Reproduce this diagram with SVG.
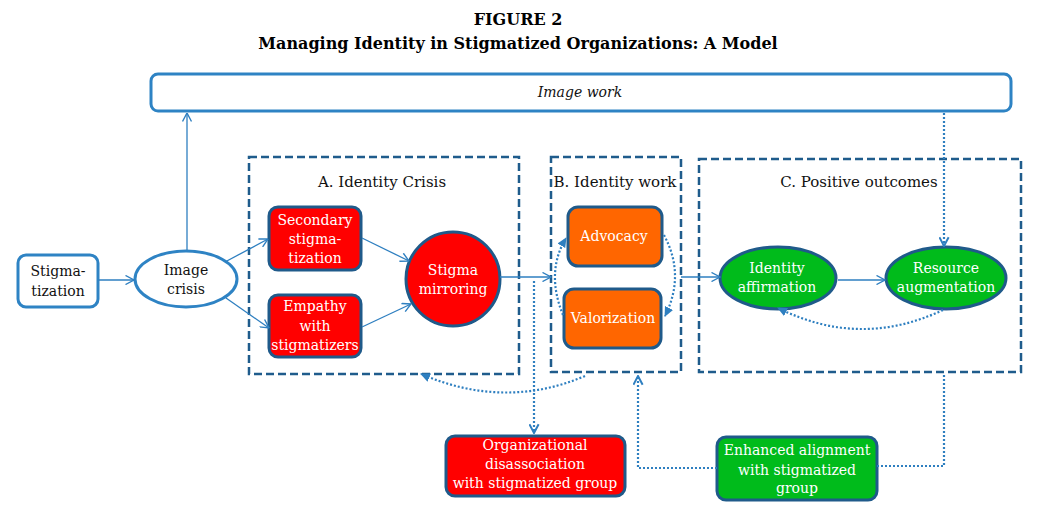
<svg xmlns="http://www.w3.org/2000/svg" width="1061" height="505" viewBox="0 0 1061 505">
<defs>
<style>
text{font-family:"DejaVu Serif","Liberation Serif",serif;text-anchor:middle}
.title{font-weight:bold;font-size:16px;fill:#000}
.hdr{font-size:15px;fill:#111}
.lbl{font-size:14px;fill:#111}
.wl{font-size:14px;fill:#fff}
.ital{font-size:14px;font-style:italic;fill:#111}
.light{fill:#fff;stroke:#2e83c4;stroke-width:3}
.grp{fill:none;stroke:#1f5c8c;stroke-width:2.5;stroke-dasharray:8,4}
.red{fill:#ff0000;stroke:#1f5a8a;stroke-width:3}
.org{fill:#ff6600;stroke:#1f5a8a;stroke-width:3}
.grn{fill:#00bb1b;stroke:#1f5a8a;stroke-width:3}
.ln{fill:none;stroke:#2e7fc0;stroke-width:1.3}
.dot{fill:none;stroke:#2e7fc0;stroke-width:2.2;stroke-dasharray:2,2}
</style>
<marker id="open" viewBox="0 0 10 10" refX="9.5" refY="5" markerWidth="10" markerHeight="10" markerUnits="userSpaceOnUse" orient="auto">
<path d="M1,0.5 L9.5,5 L1,9.5" fill="none" stroke="#2e7fc0" stroke-width="1.4"/>
</marker>
<marker id="openD" viewBox="0 0 10 10" refX="9" refY="5" markerWidth="11" markerHeight="11" markerUnits="userSpaceOnUse" orient="auto">
<path d="M1,0.8 L9,5 L1,9.2" fill="none" stroke="#2e7fc0" stroke-width="1.8"/>
</marker>
<marker id="fill" viewBox="0 0 10 10" refX="9" refY="5" markerWidth="10" markerHeight="10" markerUnits="userSpaceOnUse" orient="auto">
<path d="M0,0.5 L10,5 L0,9.5 Z" fill="#2e7fc0"/>
</marker>
</defs>
<rect width="1061" height="505" fill="#fff"/>
<g id="title">
<text class="title" x="518" y="25">FIGURE 2</text>
<text class="title" x="518" y="49">Managing Identity in Stigmatized Organizations: A Model</text>
</g>
<g id="image-work">
<rect class="light" x="151" y="74" width="860" height="37" rx="7"/>
<text class="ital" x="580" y="97">Image work</text>
</g>
<g id="group-a">
<rect class="grp" x="249" y="157" width="270" height="217"/>
<text class="hdr" x="382" y="187">A. Identity Crisis</text>
</g>
<g id="group-b">
<rect class="grp" x="551" y="157" width="130" height="215"/>
<text class="hdr" x="615" y="187">B. Identity work</text>
</g>
<g id="group-c">
<rect class="grp" x="699" y="159" width="322" height="213"/>
<text class="hdr" x="859" y="187">C. Positive outcomes</text>
</g>
<g id="stigmatization">
<rect class="light" x="18" y="255" width="80" height="52" rx="8"/>
<text class="lbl" x="58" y="276">Stigma-</text>
<text class="lbl" x="58" y="296">tization</text>
</g>
<g id="image-crisis">
<ellipse class="light" cx="186" cy="279" rx="51" ry="28"/>
<text class="lbl" x="186" y="275">Image</text>
<text class="lbl" x="186" y="294">crisis</text>
</g>
<g id="secondary">
<rect class="red" x="269" y="207" width="92" height="63" rx="9"/>
<text class="wl" x="315" y="225">Secondary</text>
<text class="wl" x="315" y="244">stigma-</text>
<text class="wl" x="315" y="263">tization</text>
</g>
<g id="empathy">
<rect class="red" x="269" y="295" width="92" height="62" rx="9"/>
<text class="wl" x="315" y="311">Empathy</text>
<text class="wl" x="315" y="331">with</text>
<text class="wl" x="315" y="350">stigmatizers</text>
</g>
<g id="stigma-mirroring">
<circle class="red" cx="453" cy="279" r="47"/>
<text class="wl" x="453" y="275">Stigma</text>
<text class="wl" x="453" y="294">mirroring</text>
</g>
<g id="advocacy">
<rect class="org" x="568" y="207" width="94" height="59" rx="10"/>
<text class="wl" x="614" y="241">Advocacy</text>
</g>
<g id="valorization">
<rect class="org" x="564" y="289" width="97" height="59" rx="10"/>
<text class="wl" x="613" y="323">Valorization</text>
</g>
<g id="identity-affirmation">
<ellipse class="grn" cx="778" cy="278" rx="58" ry="31"/>
<text class="wl" x="777" y="273">Identity</text>
<text class="wl" x="777" y="292">affirmation</text>
</g>
<g id="resource-augmentation">
<ellipse class="grn" cx="946" cy="278" rx="60" ry="31"/>
<text class="wl" x="946" y="273">Resource</text>
<text class="wl" x="946" y="292">augmentation</text>
</g>
<g id="org-disassociation">
<rect class="red" x="446" y="436" width="179" height="60" rx="9"/>
<text class="wl" x="535" y="450">Organizational</text>
<text class="wl" x="535" y="469">disassociation</text>
<text class="wl" x="535" y="488">with stigmatized group</text>
</g>
<g id="enhanced-alignment">
<rect class="grn" x="717" y="437" width="160" height="63" rx="9"/>
<text class="wl" x="797" y="455">Enhanced alignment</text>
<text class="wl" x="797" y="475">with stigmatized</text>
<text class="wl" x="797" y="493">group</text>
</g>
<g id="connectors">
<path class="ln" d="M98,280 L134,280" marker-end="url(#open)"/>
<path class="ln" d="M187,250 L187,113" marker-end="url(#open)"/>
<path class="ln" d="M225,262 L268,239" marker-end="url(#open)"/>
<path class="ln" d="M226,298 L269,328" marker-end="url(#open)"/>
<path class="ln" d="M362,238 L409,261" marker-end="url(#open)"/>
<path class="ln" d="M362,327 L411,304" marker-end="url(#open)"/>
<path class="ln" d="M500,277 L551,277" marker-end="url(#open)"/>
<path class="ln" d="M681,277 L720,277" marker-end="url(#open)"/>
<path class="ln" d="M838,280 L885,280" marker-end="url(#open)"/>
<path class="dot" d="M944,113 L944,246" marker-end="url(#openD)"/>
<path class="dot" d="M563,315 Q545.5,272 566,238" marker-end="url(#fill)"/>
<path class="dot" d="M664,235 Q685.5,275 665,316" marker-end="url(#fill)"/>
<path class="dot" d="M943,310 Q860,349 778,308" marker-end="url(#fill)"/>
<path class="dot" d="M585,376 Q505,410 421,374" marker-end="url(#fill)"/>
<path class="dot" d="M534,281 L534,433" marker-end="url(#openD)"/>
<path class="dot" d="M717,468 L638,468 L638,376" marker-end="url(#openD)"/>
<path class="dot" d="M877,466 L944,466 L944,373"/>
</g>
</svg>
